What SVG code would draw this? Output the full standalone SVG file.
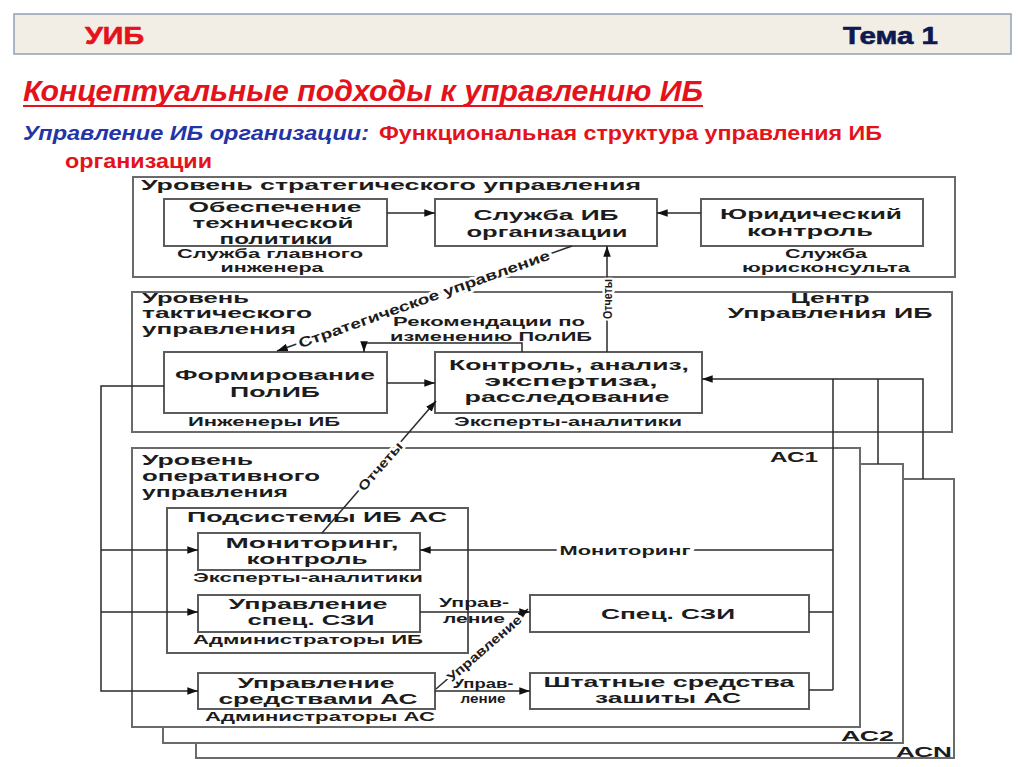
<svg xmlns="http://www.w3.org/2000/svg" width="1024" height="767" viewBox="0 0 1024 767">
<defs>
<marker id="ah" viewBox="0 0 10 7" refX="10" refY="3.5" markerWidth="11" markerHeight="7.5" markerUnits="userSpaceOnUse" orient="auto"><path d="M0,0 L10,3.5 L0,7 z" fill="#111"/></marker>
</defs>
<style>
.t{font-family:"Liberation Sans",Arial,sans-serif;font-weight:bold;fill:#1c1c1c}
.m{text-anchor:middle}
.s15{font-size:15px}.s14{font-size:14px}.s13{font-size:13px}.s12{font-size:12px}.s11{font-size:11px}
.box{fill:#fff;stroke:#5c5c5c;stroke-width:2}
.lvl{fill:#fff;stroke:#6a6a6a;stroke-width:2}
.c{fill:none;stroke:#2a2a2a;stroke-width:1.5}
.halo{stroke:#fff;stroke-width:5;paint-order:stroke;stroke-linejoin:round}
</style>
<rect width="1024" height="767" fill="#fff"/>
<g id="header">
<rect x="14" y="14" width="997" height="40" fill="#f3eee5" stroke="#8fa2b8" stroke-width="1.5"/>
<text x="85" y="44" font-family="Liberation Sans,Arial,sans-serif" font-weight="bold" font-size="24" fill="#e3121b" stroke="#e3121b" stroke-width="0.6" textLength="59" lengthAdjust="spacingAndGlyphs">УИБ</text>
<text x="843" y="44" font-family="Liberation Sans,Arial,sans-serif" font-weight="bold" font-size="24" fill="#0d1a4f" stroke="#0d1a4f" stroke-width="0.6" textLength="95" lengthAdjust="spacingAndGlyphs">Тема 1</text>
</g>
<g id="title">
<text x="23" y="101" font-family="Liberation Sans,Arial,sans-serif" font-weight="bold" font-style="italic" font-size="29" fill="#e3121b" textLength="680" lengthAdjust="spacingAndGlyphs">Концептуальные подходы к  управлению ИБ</text>
<line x1="23" y1="106" x2="703" y2="106" stroke="#e3121b" stroke-width="2"/>
<text x="23" y="140" font-family="Liberation Sans,Arial,sans-serif" font-weight="bold" font-style="italic" font-size="21" fill="#2433a8" textLength="346" lengthAdjust="spacingAndGlyphs">Управление ИБ организации:</text>
<text x="379" y="140" font-family="Liberation Sans,Arial,sans-serif" font-weight="bold" font-size="21" fill="#e3121b" textLength="503" lengthAdjust="spacingAndGlyphs">Функциональная структура управления ИБ</text>
<text x="65" y="168" font-family="Liberation Sans,Arial,sans-serif" font-weight="bold" font-size="21" fill="#e3121b" textLength="147" lengthAdjust="spacingAndGlyphs">организации</text>
</g>
<g id="acn"><rect class="lvl" x="196" y="479" width="758" height="279"/>
<text class="t s14" x="896" y="757" textLength="56" lengthAdjust="spacingAndGlyphs">АСN</text></g>
<g id="ac2"><rect class="lvl" x="163" y="464" width="740" height="279"/>
<text class="t s14" x="841" y="741" textLength="53" lengthAdjust="spacingAndGlyphs">АС2</text></g>
<g id="ac1"><rect class="lvl" x="132" y="448" width="728" height="279"/>
<text class="t s14" x="770" y="462" textLength="48" lengthAdjust="spacingAndGlyphs">АС1</text>
<text class="t s14" x="142" y="465" textLength="111" lengthAdjust="spacingAndGlyphs">Уровень</text>
<text class="t s14" x="142" y="481" textLength="178" lengthAdjust="spacingAndGlyphs">оперативного</text>
<text class="t s14" x="142" y="497" textLength="146" lengthAdjust="spacingAndGlyphs">управления</text></g>
<g id="strategic"><rect class="lvl" x="133" y="177" width="822" height="100"/>
<text class="t s14" x="141" y="190" textLength="500" lengthAdjust="spacingAndGlyphs">Уровень стратегического управления</text></g>
<g id="tactical"><rect class="lvl" x="132" y="292" width="820" height="140"/>
<text class="t s14" x="142" y="303" textLength="107" lengthAdjust="spacingAndGlyphs">Уровень</text>
<text class="t s14" x="142" y="318" textLength="170" lengthAdjust="spacingAndGlyphs">тактического</text>
<text class="t s14" x="142" y="334" textLength="154" lengthAdjust="spacingAndGlyphs">управления</text>
<text class="t s14 m" x="830" y="303" textLength="79" lengthAdjust="spacingAndGlyphs">Центр</text>
<text class="t s14 m" x="830" y="318" textLength="205" lengthAdjust="spacingAndGlyphs">Управления ИБ</text></g>
<g id="tech-policy"><rect class="box" x="164" y="199" width="223" height="47"/>
<text class="t s15 m" x="275" y="212" textLength="173" lengthAdjust="spacingAndGlyphs">Обеспечение</text>
<text class="t s15 m" x="273" y="228" textLength="161" lengthAdjust="spacingAndGlyphs">технической</text>
<text class="t s15 m" x="276" y="244" textLength="113" lengthAdjust="spacingAndGlyphs">политики</text>
<text class="t s12 m" x="270" y="258" textLength="186" lengthAdjust="spacingAndGlyphs">Служба главного</text>
<text class="t s12 m" x="272" y="272" textLength="103" lengthAdjust="spacingAndGlyphs">инженера</text></g>
<g id="ib-service"><rect class="box" x="435" y="199" width="222" height="47"/>
<text class="t s15 m" x="546" y="220" textLength="145" lengthAdjust="spacingAndGlyphs">Служба ИБ</text>
<text class="t s15 m" x="547" y="237" textLength="161" lengthAdjust="spacingAndGlyphs">организации</text></g>
<g id="legal"><rect class="box" x="701" y="199" width="222" height="47"/>
<text class="t s15 m" x="811" y="219" textLength="182" lengthAdjust="spacingAndGlyphs">Юридический</text>
<text class="t s15 m" x="810" y="236" textLength="126" lengthAdjust="spacingAndGlyphs">контроль</text>
<text class="t s12 m" x="826" y="258" textLength="82" lengthAdjust="spacingAndGlyphs">Служба</text>
<text class="t s12 m" x="826" y="272" textLength="168" lengthAdjust="spacingAndGlyphs">юрисконсульта</text></g>
<g id="policy"><rect class="box" x="164" y="352" width="223" height="61"/>
<text class="t s15 m" x="275" y="380" textLength="200" lengthAdjust="spacingAndGlyphs">Формирование</text>
<text class="t s15 m" x="275" y="397" textLength="90" lengthAdjust="spacingAndGlyphs">ПолИБ</text>
<text class="t s12 m" x="264" y="426" textLength="152" lengthAdjust="spacingAndGlyphs">Инженеры ИБ</text></g>
<g id="control"><rect class="box" x="435" y="352" width="267" height="61"/>
<text class="t s15 m" x="569" y="370" textLength="240" lengthAdjust="spacingAndGlyphs">Контроль, анализ,</text>
<text class="t s15 m" x="571" y="386" textLength="173" lengthAdjust="spacingAndGlyphs">экспертиза,</text>
<text class="t s15 m" x="567" y="402" textLength="205" lengthAdjust="spacingAndGlyphs">расследование</text>
<text class="t s12 m" x="568" y="426" textLength="228" lengthAdjust="spacingAndGlyphs">Эксперты-аналитики</text></g>
<g id="subsystems"><rect class="box" x="167" y="508" width="301" height="145"/>
<text class="t s15 m" x="317" y="522" textLength="260" lengthAdjust="spacingAndGlyphs">Подсистемы ИБ АС</text></g>
<g id="monitoring"><rect class="box" x="198" y="533" width="222" height="37"/>
<text class="t s15 m" x="312" y="548" textLength="173" lengthAdjust="spacingAndGlyphs">Мониторинг,</text>
<text class="t s15 m" x="307" y="564" textLength="121" lengthAdjust="spacingAndGlyphs">контроль</text>
<text class="t s12 m" x="308" y="582" textLength="230" lengthAdjust="spacingAndGlyphs">Эксперты-аналитики</text></g>
<g id="szi-mgmt"><rect class="box" x="198" y="595" width="222" height="37"/>
<text class="t s15 m" x="308" y="609" textLength="159" lengthAdjust="spacingAndGlyphs">Управление</text>
<text class="t s15 m" x="311" y="625" textLength="127" lengthAdjust="spacingAndGlyphs">спец. СЗИ</text>
<text class="t s12 m" x="308" y="644" textLength="230" lengthAdjust="spacingAndGlyphs">Администраторы ИБ</text></g>
<g id="as-mgmt"><rect class="box" x="198" y="673" width="237" height="36"/>
<text class="t s15 m" x="316" y="688" textLength="157" lengthAdjust="spacingAndGlyphs">Управление</text>
<text class="t s15 m" x="318" y="704" textLength="199" lengthAdjust="spacingAndGlyphs">средствами АС</text>
<text class="t s12 m" x="320" y="721" textLength="230" lengthAdjust="spacingAndGlyphs">Администраторы АС</text></g>
<g id="spec-szi"><rect class="box" x="530" y="595" width="279" height="37"/>
<text class="t s15 m" x="668" y="619" textLength="134" lengthAdjust="spacingAndGlyphs">Спец. СЗИ</text></g>
<g id="std-means"><rect class="box" x="530" y="673" width="279" height="36"/>
<text class="t s15 m" x="669" y="687" textLength="251" lengthAdjust="spacingAndGlyphs">Штатные средства</text>
<text class="t s15 m" x="668" y="703" textLength="146" lengthAdjust="spacingAndGlyphs">зашиты АС</text></g>
<g id="connectors">
<line class="c" x1="387" y1="213" x2="435" y2="213" marker-end="url(#ah)"/>
<line class="c" x1="701" y1="213" x2="657" y2="213" marker-end="url(#ah)"/>
<line class="c" x1="572" y1="246" x2="277" y2="351" marker-end="url(#ah)"/>
<line class="c" x1="607" y1="352" x2="607" y2="246" marker-end="url(#ah)"/>
<polyline class="c" points="522,352 522,343 364,343 364,352" marker-end="url(#ah)"/>
<line class="c" x1="387" y1="383" x2="435" y2="383" marker-end="url(#ah)"/>
<polyline class="c" points="923,479 923,379 702,379" marker-end="url(#ah)"/>
<line class="c" x1="878" y1="464" x2="878" y2="379"/>
<line class="c" x1="833" y1="690" x2="833" y2="379"/>
<line class="c" x1="833" y1="550" x2="420" y2="550" marker-end="url(#ah)"/>
<line class="c" x1="809" y1="612" x2="833" y2="612"/>
<line class="c" x1="809" y1="690" x2="833" y2="690"/>
<polyline class="c" points="164,386 101,386 101,691 198,691" marker-end="url(#ah)"/>
<line class="c" x1="101" y1="550" x2="198" y2="550" marker-end="url(#ah)"/>
<line class="c" x1="101" y1="612" x2="198" y2="612" marker-end="url(#ah)"/>
<line class="c" x1="322" y1="533" x2="436" y2="401" marker-end="url(#ah)"/>
<line class="c" x1="420" y1="612" x2="530" y2="612" marker-end="url(#ah)"/>
<line class="c" x1="435" y1="691" x2="530" y2="691" marker-end="url(#ah)"/>
<line class="c" x1="436" y1="689" x2="528" y2="609" marker-end="url(#ah)"/>
</g>
<g id="labels">
<text class="t s14 m halo" transform="translate(424,299) rotate(-19.6)" x="0" y="5" textLength="266" lengthAdjust="spacingAndGlyphs">Стратегическое управление</text>
<text class="t s13 m halo" transform="translate(607,299) rotate(-90)" x="0" y="5" textLength="40" lengthAdjust="spacingAndGlyphs">Отчеты</text>
<text class="t s12 m" x="489" y="326" textLength="192" lengthAdjust="spacingAndGlyphs">Рекомендации по</text>
<text class="t s12 m" x="491" y="341" textLength="202" lengthAdjust="spacingAndGlyphs">изменению ПолИБ</text>
<text class="t s13 m halo" transform="translate(380,466) rotate(-49)" x="0" y="5" textLength="60" lengthAdjust="spacingAndGlyphs">Отчеты</text>
<text class="t s13 m halo" x="625" y="555" textLength="131" lengthAdjust="spacingAndGlyphs">Мониторинг</text>
<text class="t s12 m" x="474" y="607" textLength="70" lengthAdjust="spacingAndGlyphs">Управ-</text>
<text class="t s12 m" x="474" y="623" textLength="62" lengthAdjust="spacingAndGlyphs">ление</text>
<text class="t s12 m" x="483" y="688" textLength="61" lengthAdjust="spacingAndGlyphs">Управ-</text>
<text class="t s12 m" x="483" y="703" textLength="45" lengthAdjust="spacingAndGlyphs">ление</text>
<text class="t s13 m halo" transform="translate(484,648) rotate(-41)" x="0" y="5" textLength="94" lengthAdjust="spacingAndGlyphs">Управление</text>
</g>
</svg>
